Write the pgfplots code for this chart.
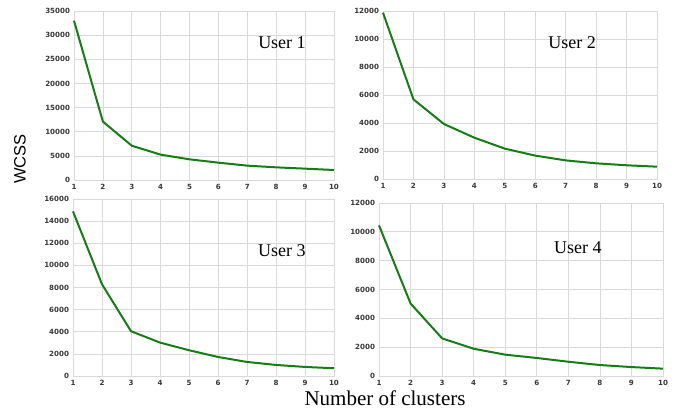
\documentclass[border=0pt]{standalone}
\usepackage{pgfplots}
\pgfplotsset{compat=1.18}
\usepackage{fontspec}
\setmainfont{Liberation Serif}
\newfontfamily\tickfont{DejaVu Sans}
\newfontfamily\arialfont{Liberation Sans}
\definecolor{lgreen}{RGB}{20,125,20}
\definecolor{tickgray}{RGB}{55,55,55}
\pgfplotsset{
  elbow/.style={
    scale only axis, anchor=south west,
    xmin=1, xmax=10, ymin=0,
    xtick={1,...,10},
    grid=major,
    grid style={draw=gray!30, line width=0.7pt},
    axis line style={draw=gray!30, line width=0.7pt},
    major tick length=0pt,
    tick label style={font=\tickfont\bfseries\fontsize{7.1}{8}\selectfont, text=tickgray},
    /pgf/number format/assume math mode=true,
    /pgf/number format/1000 sep={},
    scaled y ticks=false,
    xticklabel style={yshift=-0.5pt},
    yticklabel style={xshift=-0.5pt},
    clip=false,
  },
  curve/.style={lgreen, line width=2pt, no marks, line join=round},
}
\begin{document}
\begin{tikzpicture}
\path (0pt,0pt) rectangle (681pt,413pt);
% User 1
\begin{axis}[elbow, at={(74pt,233pt)}, width=260pt, height=169pt, ymax=35000, ytick={0,5000,...,35000}]
\addplot[curve] coordinates {(1,33000) (2,12100) (3,7100) (4,5250) (5,4280) (6,3590) (7,2970) (8,2620) (9,2350) (10,2070)};
\node[font=\fontsize{18}{20}\selectfont] at (rel axis cs:0.8,0.81) {User 1};
\end{axis}
% User 2
\begin{axis}[elbow, at={(383pt,234pt)}, width=274pt, height=168pt, ymax=12000, ytick={0,2000,...,12000}]
\addplot[curve] coordinates {(1,11880) (2,5690) (3,3930) (4,2950) (5,2170) (6,1670) (7,1330) (8,1120) (9,980) (10,880)};
\node[font=\fontsize{18}{20}\selectfont] at (rel axis cs:0.69,0.81) {User 2};
\end{axis}
% User 3
\begin{axis}[elbow, at={(73pt,37pt)}, width=261pt, height=177pt, ymax=16000, ytick={0,2000,...,16000}]
\addplot[curve] coordinates {(1,14880) (2,8290) (3,4050) (4,3020) (5,2330) (6,1720) (7,1270) (8,1000) (9,820) (10,700)};
\node[font=\fontsize{18}{20}\selectfont] at (rel axis cs:0.8,0.71) {User 3};
\end{axis}
% User 4
\begin{axis}[elbow, at={(379pt,37pt)}, width=284pt, height=173pt, ymax=12000, ytick={0,2000,...,12000}]
\addplot[curve] coordinates {(1,10450) (2,5030) (3,2610) (4,1890) (5,1480) (6,1250) (7,990) (8,760) (9,620) (10,510)};
\node[font=\fontsize{18}{20}\selectfont] at (rel axis cs:0.7,0.74) {User 4};
\end{axis}
\node[rotate=90, font=\arialfont\fontsize{16.5}{18}\selectfont] at (20pt,254pt) {WCSS};
\node[font=\fontsize{21}{23}\selectfont] at (385pt,15pt) {Number of clusters};
\end{tikzpicture}
\end{document}
